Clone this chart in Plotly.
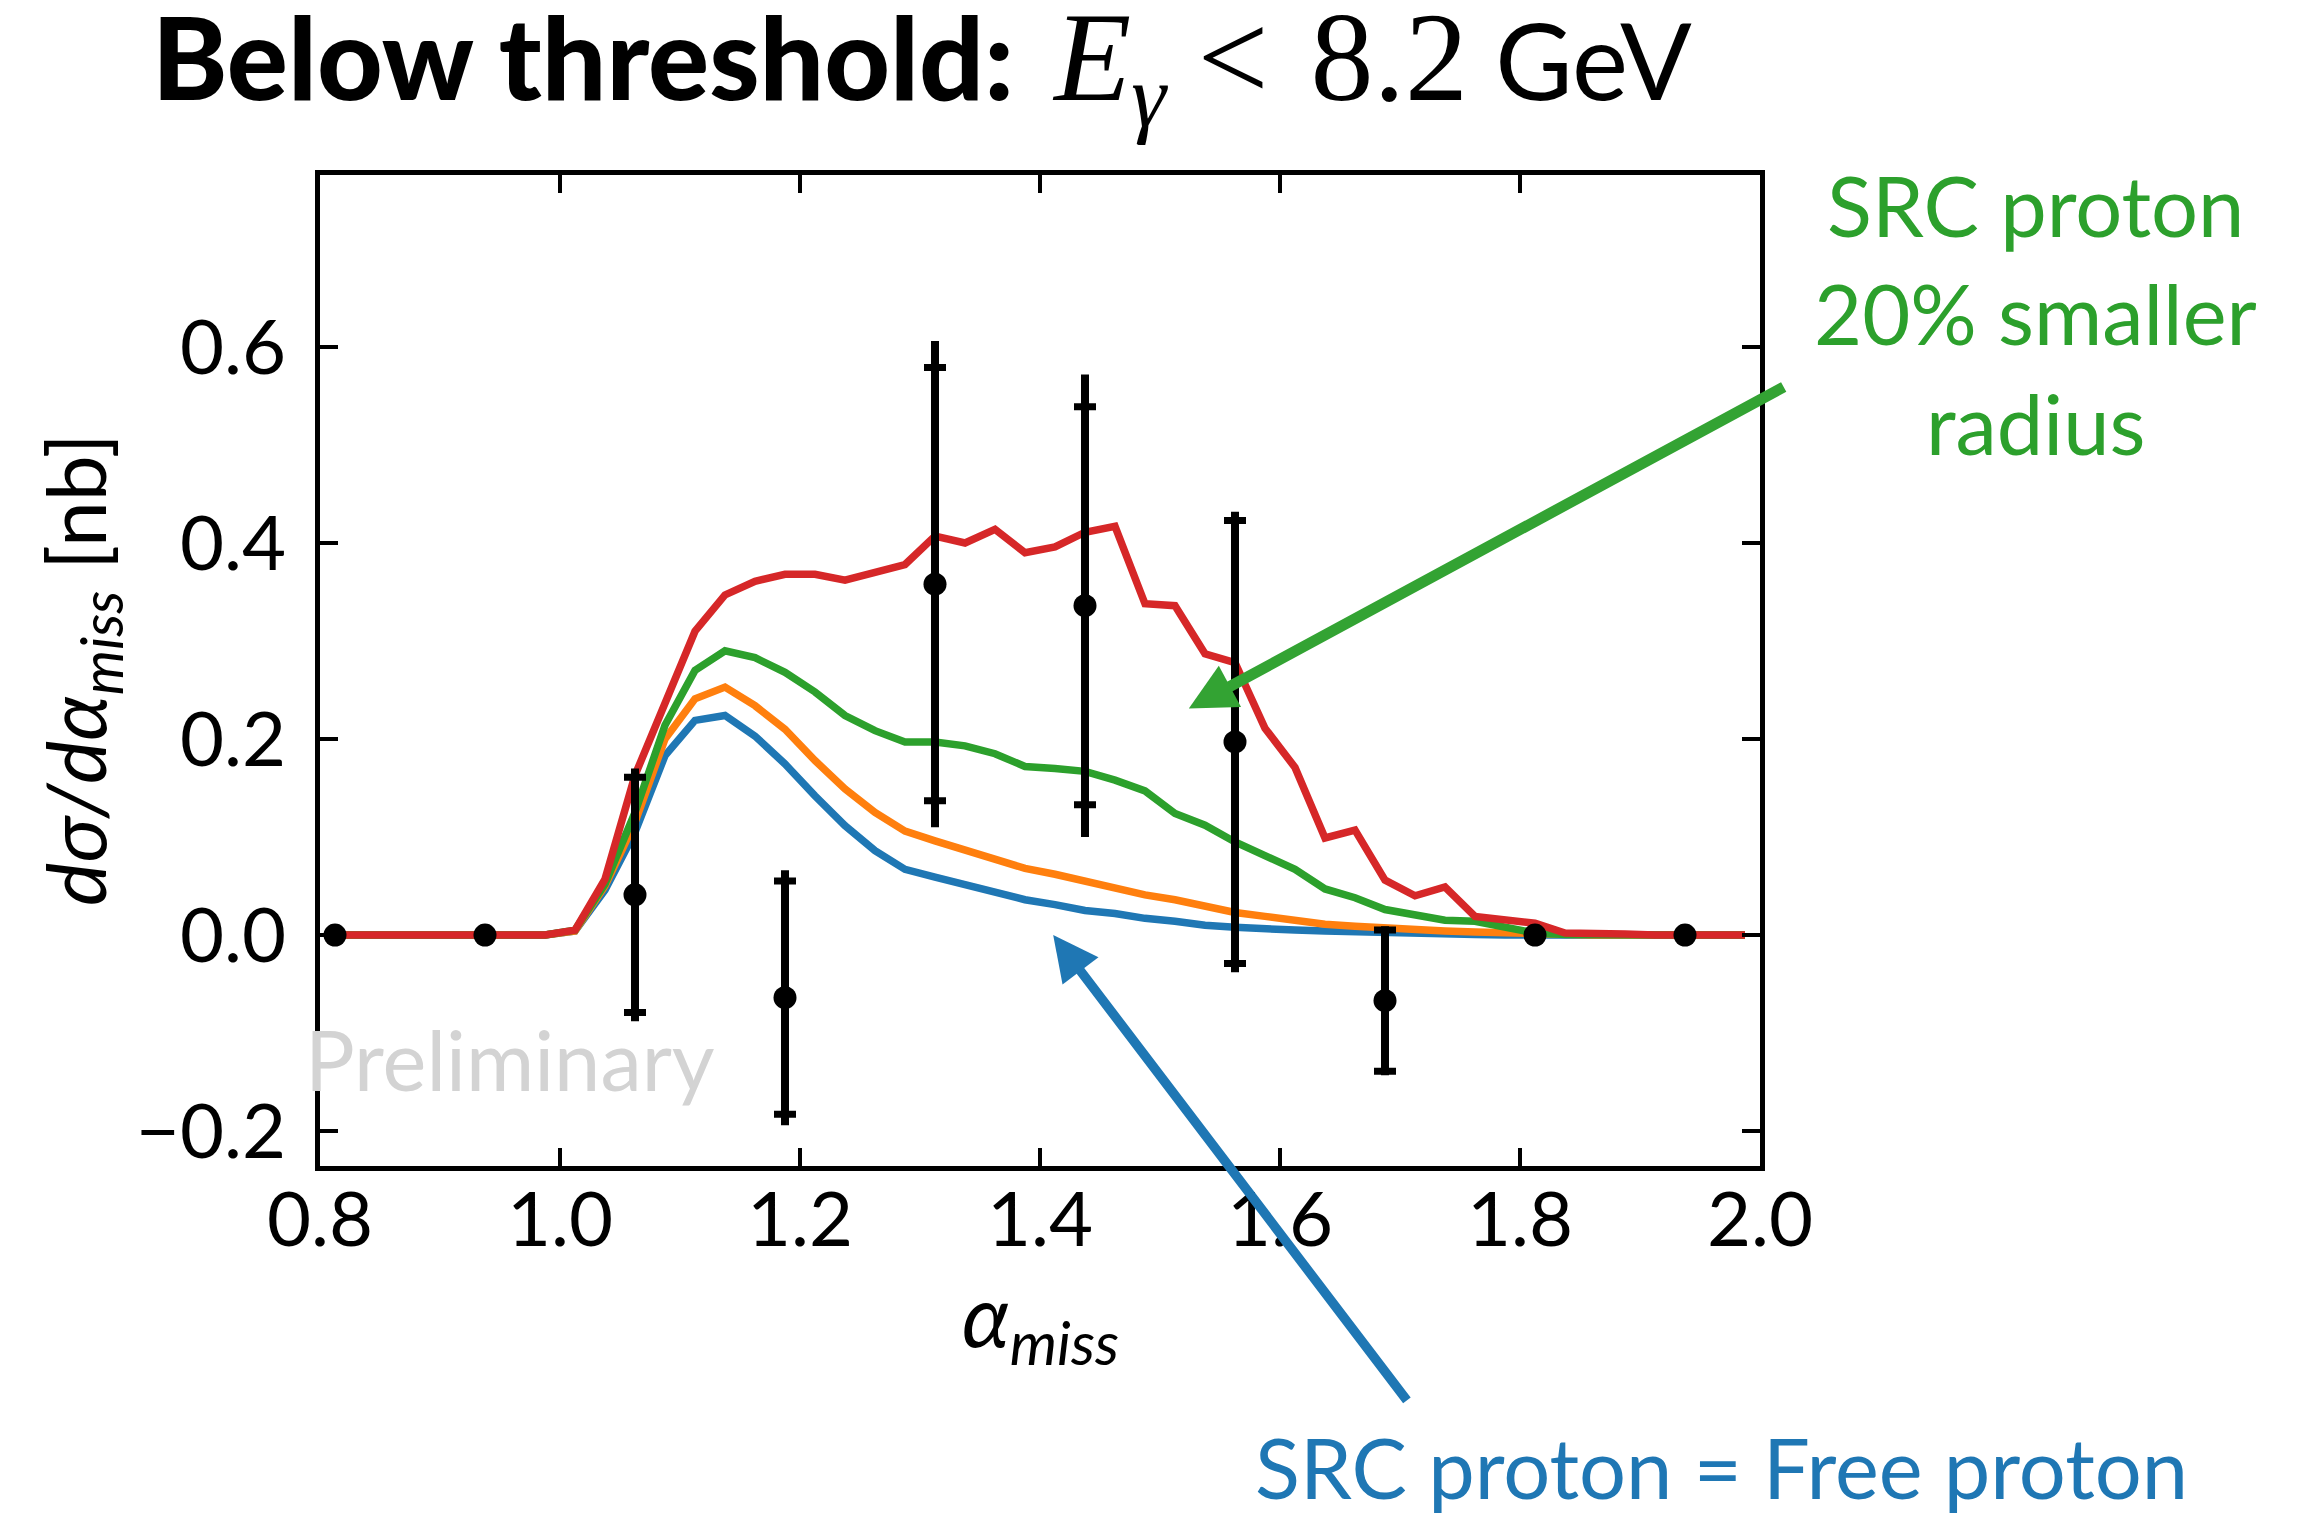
import plotly.graph_objects as go

# ---- model curves: dσ/dα_miss [nb] on a 0.025-wide α_miss grid ----
alpha_grid = [
    0.8125, 0.8375, 0.8625, 0.8875, 0.9125, 0.9375, 0.9625, 0.9875,
    1.0125, 1.0375, 1.0625, 1.0875, 1.1125, 1.1375, 1.1625, 1.1875,
    1.2125, 1.2375, 1.2625, 1.2875, 1.3125, 1.3375, 1.3625, 1.3875,
    1.4125, 1.4375, 1.4625, 1.4875, 1.5125, 1.5375, 1.5625, 1.5875,
    1.6125, 1.6375, 1.6625, 1.6875, 1.7125, 1.7375, 1.7625, 1.7875,
    1.8125, 1.8375, 1.8625, 1.8875, 1.9125, 1.9375, 1.9625, 1.9875,
]

free_proton = [
    0, 0, 0, 0, 0, 0, 0, 0,
    0.004, 0.046, 0.105, 0.183, 0.219, 0.224, 0.203, 0.1745,
    0.142, 0.1115, 0.086, 0.067, 0.059, 0.051, 0.043, 0.036,
    0.031, 0.025, 0.022, 0.017, 0.014, 0.010, 0.008, 0.006,
    0.005, 0.004, 0.003, 0.002, 0.001, 0.001, 0.0005, 0,
    0, 0, 0, 0, 0, 0, 0, 0,
]

model_orange = [
    0, 0, 0, 0, 0, 0, 0, 0,
    0.004, 0.050, 0.115, 0.200, 0.241, 0.253, 0.234, 0.210,
    0.178, 0.149, 0.125, 0.106, 0.096, 0.087, 0.077, 0.068,
    0.062, 0.055, 0.049, 0.041, 0.036, 0.029, 0.023, 0.019,
    0.015, 0.011, 0.009, 0.007, 0.005, 0.004, 0.003, 0.002,
    0.001, 0.0005, 0, 0, 0, 0, 0, 0,
]

smaller_radius = [
    0, 0, 0, 0, 0, 0, 0, 0,
    0.005, 0.052, 0.125, 0.214, 0.270, 0.290, 0.283, 0.268,
    0.248, 0.224, 0.2085, 0.197, 0.197, 0.193, 0.185, 0.172,
    0.170, 0.167, 0.158, 0.147, 0.124, 0.112, 0.095, 0.081,
    0.067, 0.047, 0.038, 0.026, 0.020, 0.015, 0.014, 0.008,
    0.002, 0.0005, 0, 0, 0, 0, 0, 0,
]

model_red = [
    0, 0, 0, 0, 0, 0, 0, 0,
    0.005, 0.057, 0.163, 0.239, 0.310, 0.347, 0.361, 0.368,
    0.368, 0.362, 0.370, 0.378, 0.407, 0.400, 0.414, 0.390,
    0.396, 0.411, 0.417, 0.338, 0.336, 0.287, 0.278, 0.211,
    0.171, 0.099, 0.107, 0.056, 0.040, 0.049, 0.019, 0.016,
    0.012, 0.002, 0.002, 0.001, 0, 0, 0, 0,
]

# ---- measured points ----
data_alpha = [0.8125, 0.9375, 1.0625, 1.1875, 1.3125, 1.4375, 1.5625, 1.6875, 1.8125, 1.9375]
data_xsec = [0, 0, 0.041, -0.064, 0.358, 0.336, 0.197, -0.067, 0, 0]
stat_err = [0, 0, 0.120, 0.119, 0.221, 0.203, 0.226, 0.072, 0, 0]
total_err = [0, 0, 0.129, 0.130, 0.248, 0.236, 0.235, 0.076, 0, 0]

# ---- axes ----
x_range = [0.8, 2.0]
y_range = [-0.2357, 0.7755]
x_ticks = [0.8, 1.0, 1.2, 1.4, 1.6, 1.8, 2.0]
y_ticks = [-0.2, 0.0, 0.2, 0.4, 0.6]

BLUE, ORANGE, GREEN, RED = "#1f77b4", "#ff7f0e", "#2ca02c", "#d62728"
SANS = "Lato, 'Noto Sans', sans-serif"

W, H = 2322, 1513
L, R, T, B = 320, 1760, 175, 1166


def px_x(px):
    return (px - L) / (R - L)


def px_y(py):
    return (B - py) / (B - T)


def nz(v):
    return [e if e else None for e in v]


fig = go.Figure()

for ys, col in [(free_proton, BLUE), (model_orange, ORANGE),
                (smaller_radius, GREEN), (model_red, RED)]:
    fig.add_trace(go.Scatter(x=alpha_grid, y=ys, mode="lines",
                             line=dict(color=col, width=7.5), showlegend=False,
                             cliponaxis=True))

# total uncertainty (no caps)
fig.add_trace(go.Scatter(
    x=data_alpha, y=data_xsec, mode="markers",
    marker=dict(size=1, color="rgba(0,0,0,0)"),
    error_y=dict(type="data", array=nz(total_err), visible=True,
                 color="black", thickness=8, width=0),
    showlegend=False))

# statistical uncertainty (capped) with markers
fig.add_trace(go.Scatter(
    x=data_alpha, y=data_xsec, mode="markers",
    marker=dict(size=23, color="black"),
    error_y=dict(type="data", array=nz(stat_err), visible=True,
                 color="black", thickness=7, width=11),
    showlegend=False, cliponaxis=False))

axis_common = dict(
    showline=True, linecolor="black", linewidth=4.5, mirror="allticks",
    ticks="inside", ticklen=18, tickwidth=4, tickcolor="black",
    showgrid=False, zeroline=False, tickformat=".1f",
    tickfont=dict(family=SANS, size=76, color="black"),
)

fig.update_xaxes(range=x_range, tickvals=x_ticks, ticklabelstandoff=-16, **axis_common)
fig.update_yaxes(range=y_range, tickvals=y_ticks, ticklabelstandoff=14, **axis_common)

annotations = [
    # title
    dict(x=px_x(150), y=px_y(66), xref="paper", yref="paper",
         xanchor="left", yanchor="middle", showarrow=False,
         text=("<span style='font-weight:900;font-size:114px'>Below threshold:</span>&nbsp;&#8201;"
               "<span style='font-family:\"Liberation Serif\",serif;font-size:126px'>"
               "<i>E</i><sub><i>γ</i></sub>&nbsp;&lt;&nbsp;&#8202;8.2</span> GeV"),
         font=dict(family=SANS, size=106, color="black")),
    # axis titles
    dict(x=0.5, y=px_y(1320), xref="paper", yref="paper",
         xanchor="center", yanchor="middle", showarrow=False,
         text="<i>α<sub>miss</sub></i>",
         font=dict(family=SANS, size=86, color="black")),
    dict(x=px_x(80), y=px_y(670), xref="paper", yref="paper",
         xanchor="center", yanchor="middle", showarrow=False, textangle=-90,
         text="<i>dσ/dα<sub>miss</sub></i> [nb]",
         font=dict(family=SANS, size=82, color="black")),
    # watermark
    dict(x=px_x(303), y=px_y(1059), xref="paper", yref="paper",
         xanchor="left", yanchor="middle", showarrow=False,
         text="Preliminary",
         font=dict(family=SANS, size=83, color="#d3d3d3")),
    # green label
    dict(x=px_x(2035), y=px_y(205), xref="paper", yref="paper",
         xanchor="center", yanchor="middle", showarrow=False,
         text="SRC proton", font=dict(family=SANS, size=83, color=GREEN)),
    dict(x=px_x(2035), y=px_y(313), xref="paper", yref="paper",
         xanchor="center", yanchor="middle", showarrow=False,
         text="20% smaller", font=dict(family=SANS, size=83, color=GREEN)),
    dict(x=px_x(2035), y=px_y(423), xref="paper", yref="paper",
         xanchor="center", yanchor="middle", showarrow=False,
         text="radius", font=dict(family=SANS, size=83, color=GREEN)),
    # blue label
    dict(x=px_x(1721), y=px_y(1467), xref="paper", yref="paper",
         xanchor="center", yanchor="middle", showarrow=False,
         text="SRC proton = Free proton",
         font=dict(family=SANS, size=83, color=BLUE)),
    # arrows
    dict(x=1.524, y=0.231, ax=2.021, ay=0.560, xref="x", yref="y",
         axref="x", ayref="y", text="", showarrow=True,
         arrowhead=2, arrowsize=0.85, arrowwidth=11, arrowcolor="#33a333",
         standoff=0),
    dict(x=1.411, y=0.0, ax=1.7067, ay=-0.4765, xref="x", yref="y",
         axref="x", ayref="y", text="", showarrow=True,
         arrowhead=2, arrowsize=0.95, arrowwidth=9.5, arrowcolor=BLUE,
         standoff=0),
]

fig.update_layout(
    width=W, height=H,
    margin=dict(l=L, r=W - R, t=T, b=H - B, pad=0),
    paper_bgcolor="white", plot_bgcolor="white",
    font=dict(family=SANS, color="black"),
    showlegend=False,
    annotations=annotations,
)

fig.write_html("out.html")
